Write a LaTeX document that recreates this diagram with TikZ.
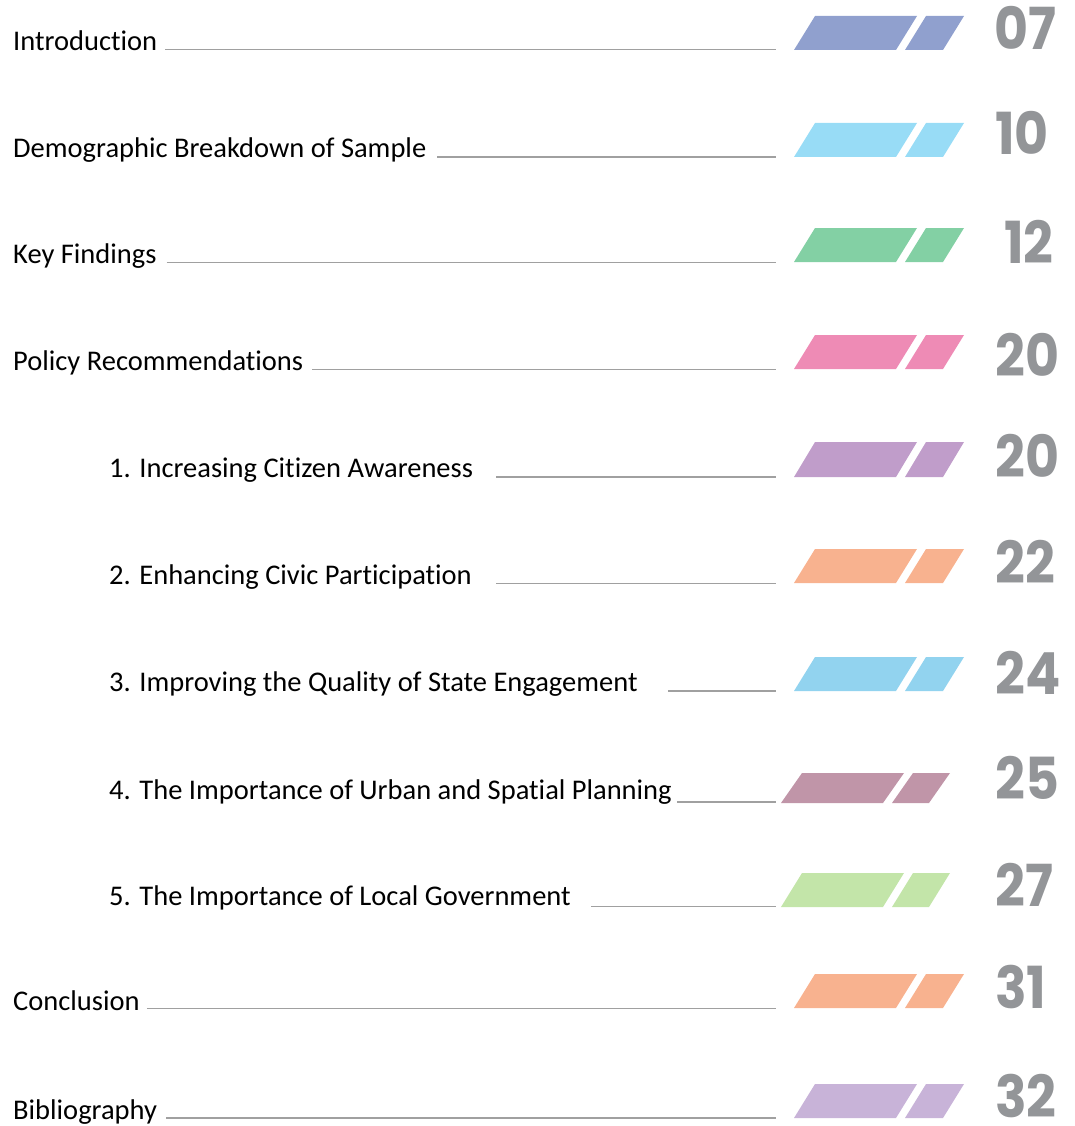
\documentclass[tikz,border=0pt]{standalone}
\usepackage{fontspec}
\newfontfamily\entryfont{Carlito}[RawFeature={-liga;-clig;-calt}]
\newfontfamily\pagefont{Poppins}[FakeStretch=0.9]
\definecolor{numgray}{HTML}{939598}
\definecolor{rulegray}{HTML}{A0A0A0}
\definecolor{intro}{HTML}{90A0CE}
\definecolor{demog}{HTML}{98DCF6}
\definecolor{keyf}{HTML}{83D0A4}
\definecolor{policy}{HTML}{EE8BB5}
\definecolor{aware}{HTML}{C09DCA}
\definecolor{civic}{HTML}{F8B28F}
\definecolor{state}{HTML}{92D3EF}
\definecolor{urban}{HTML}{C095A8}
\definecolor{local}{HTML}{C3E5A9}
\definecolor{concl}{HTML}{F8B28F}
\definecolor{biblio}{HTML}{C8B3D8}
\begin{document}
\begin{tikzpicture}[x=1pt,y=-1pt,
    entry/.style={anchor=base west,inner sep=0pt,font=\entryfont\fontsize{28.5}{30}\selectfont},
    pageno/.style={anchor=base west,inner sep=0pt,text=numgray,font=\pagefont\bfseries\fontsize{58}{60}\selectfont},
    rule/.style={draw=rulegray,line width=1.5pt}]
  \useasboundingbox (0,0) rectangle (1074,1126);
  \draw
    (13,51) node[entry] (intro) {Introduction}
    (13,158) node[entry] (demog) {Demographic Breakdown of Sample}
    (13,263.5) node[entry] (keyf) {Key Findings}
    (13,370.5) node[entry] (policy) {Policy Recommendations}
    (109,477.5) node[entry] (aware) {1. Increasing Citizen Awareness}
    (109,584) node[entry] (civic) {2. Enhancing Civic Participation}
    (109,691.5) node[entry] (state) {3. Improving the Quality of State Engagement}
    (109,799) node[entry] (urban) {4. The Importance of Urban and Spatial Planning}
    (109,905) node[entry] (local) {5. The Importance of Local Government}
    (13,1010) node[entry] (concl) {Conclusion}
    (13,1119) node[entry] (biblio) {Bibliography};
  \draw
    (776,49.5) coordinate (intro-end)
    (776,157) coordinate (demog-end)
    (776,262.5) coordinate (keyf-end)
    (776,369.5) coordinate (policy-end)
    (776,477) coordinate (aware-end)
    (776,583.5) coordinate (civic-end)
    (776,691) coordinate (state-end)
    (776,802) coordinate (urban-end)
    (776,906.5) coordinate (local-end)
    (776,1008.5) coordinate (concl-end)
    (776,1118) coordinate (biblio-end);
  \begin{scope}[rule]
    \draw ([xshift=8pt]intro.east |- intro-end) to (intro-end);
    \draw ([xshift=11pt]demog.east |- demog-end) to (demog-end);
    \draw ([xshift=10pt]keyf.east |- keyf-end) to (keyf-end);
    \draw ([xshift=9pt]policy.east |- policy-end) to (policy-end);
    \draw ([xshift=23pt]aware.east |- aware-end) to (aware-end);
    \draw ([xshift=24pt]civic.east |- civic-end) to (civic-end);
    \draw ([xshift=30pt]state.east |- state-end) to (state-end);
    \draw ([xshift=5pt]urban.east |- urban-end) to (urban-end);
    \draw ([xshift=20pt]local.east |- local-end) to (local-end);
    \draw ([xshift=7pt]concl.east |- concl-end) to (concl-end);
    \draw ([xshift=9pt]biblio.east |- biblio-end) to (biblio-end);
  \end{scope}
  \fill[intro] (794,50) -- ++(21,-34) -- ++(102,0) -- ++(-21,34) -- cycle;
  \fill[intro] (905,50) -- ++(21,-34) -- ++(38,0) -- ++(-21,34) -- cycle;
  \fill[demog] (794,157) -- ++(21,-34) -- ++(102,0) -- ++(-21,34) -- cycle;
  \fill[demog] (905,157) -- ++(21,-34) -- ++(38,0) -- ++(-21,34) -- cycle;
  \fill[keyf] (794,262) -- ++(21,-34) -- ++(102,0) -- ++(-21,34) -- cycle;
  \fill[keyf] (905,262) -- ++(21,-34) -- ++(38,0) -- ++(-21,34) -- cycle;
  \fill[policy] (794,369) -- ++(21,-34) -- ++(102,0) -- ++(-21,34) -- cycle;
  \fill[policy] (905,369) -- ++(21,-34) -- ++(38,0) -- ++(-21,34) -- cycle;
  \fill[aware] (794,477) -- ++(21,-35) -- ++(102,0) -- ++(-21,35) -- cycle;
  \fill[aware] (905,477) -- ++(21,-35) -- ++(38,0) -- ++(-21,35) -- cycle;
  \fill[civic] (794,583) -- ++(21,-34) -- ++(102,0) -- ++(-21,34) -- cycle;
  \fill[civic] (905,583) -- ++(21,-34) -- ++(38,0) -- ++(-21,34) -- cycle;
  \fill[state] (794,691) -- ++(21,-34) -- ++(102,0) -- ++(-21,34) -- cycle;
  \fill[state] (905,691) -- ++(21,-34) -- ++(38,0) -- ++(-21,34) -- cycle;
  \fill[urban] (781,803) -- ++(21,-30) -- ++(102,0) -- ++(-21,30) -- cycle;
  \fill[urban] (892,803) -- ++(21,-30) -- ++(37,0) -- ++(-21,30) -- cycle;
  \fill[local] (781,907) -- ++(21,-34) -- ++(102,0) -- ++(-21,34) -- cycle;
  \fill[local] (892,907) -- ++(21,-34) -- ++(37,0) -- ++(-21,34) -- cycle;
  \fill[concl] (794,1008) -- ++(21,-34) -- ++(102,0) -- ++(-21,34) -- cycle;
  \fill[concl] (905,1008) -- ++(21,-34) -- ++(38,0) -- ++(-21,34) -- cycle;
  \fill[biblio] (794,1118) -- ++(21,-34) -- ++(102,0) -- ++(-21,34) -- cycle;
  \fill[biblio] (905,1118) -- ++(21,-34) -- ++(38,0) -- ++(-21,34) -- cycle;
  \draw
    (994,50) node[pageno] (p-intro) {07}
    (995,155) node[pageno] (p-demog) {10}
    (1004,263) node[pageno] (p-keyf) {12}
    (995,376) node[pageno] (p-policy) {20}
    (995,477) node[pageno] (p-aware) {20}
    (995,583) node[pageno] (p-civic) {22}
    (995,694) node[pageno] (p-state) {24}
    (995,799) node[pageno] (p-urban) {25}
    (995,906) node[pageno] (p-local) {27}
    (995,1008) node[pageno] (p-concl) {31}
    (995,1117) node[pageno] (p-biblio) {32};
\end{tikzpicture}
\end{document}
